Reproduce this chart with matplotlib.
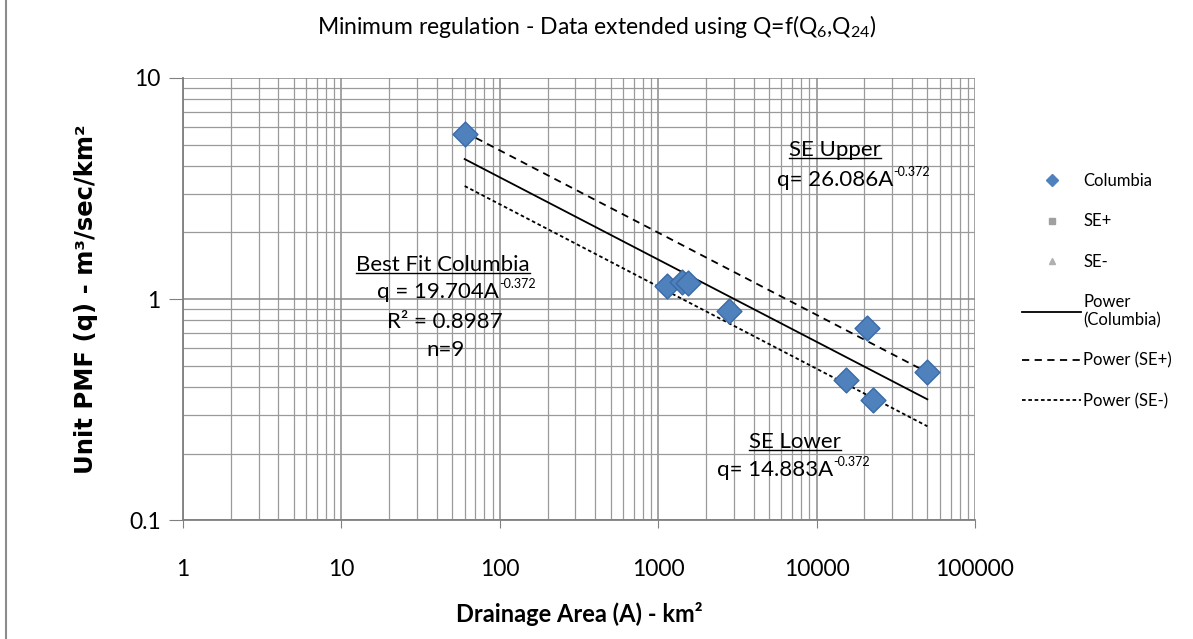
import numpy as np
import matplotlib.pyplot as plt
from matplotlib.lines import Line2D
from matplotlib.ticker import LogLocator, FixedLocator, NullFormatter

plt.rcParams['font.family'] = ['Lato', 'DejaVu Sans']
plt.rcParams['mathtext.fontset'] = 'custom'
plt.rcParams['mathtext.rm'] = 'Lato'
plt.rcParams['mathtext.it'] = 'Lato:italic'

# data
area = [60, 1136, 1413, 1543, 2800, 15340, 20800, 22700, 49800]
unit_pmf = [5.58, 1.145, 1.19, 1.18, 0.88, 0.43, 0.74, 0.35, 0.467]

# power trendlines q = c * A^b, drawn over the data range
fit_names = ['Power (Columbia)', 'Power (SE+)', 'Power (SE-)']
fit_coef = [19.704, 26.086, 14.883]
fit_exp = -0.372
fit_range = [60, 50000]

x_ticks = [1, 10, 100, 1000, 10000, 100000]
x_labels = ['1', '10', '100', '1000', '10000', '100000']
y_ticks = [0.1, 1, 10]
y_labels = ['0.1', '1', '10']

blue = '#4F81BD'

fig = plt.figure(figsize=(11.93, 6.39), dpi=100)
ax = fig.add_axes([0.1534, 0.186, 0.6639, 0.692])

ax.set_xscale('log')
ax.set_yscale('log')
ax.set_xlim(1, 100000)
ax.set_ylim(0.1, 10)

styles = ['-', (0, (4, 3)), (0, (2, 1.5))]
for c, st in zip(fit_coef, styles):
    xs = np.array(fit_range, dtype=float)
    ax.plot(xs, c * xs ** fit_exp, color='black', linestyle=st, linewidth=1.3, zorder=3)

ax.scatter(area, unit_pmf, marker='D', s=160, color=blue, edgecolors='#3a6aa8',
           linewidths=1, zorder=4)

ax.xaxis.set_major_locator(FixedLocator(x_ticks))
ax.set_xticklabels(x_labels)
ax.yaxis.set_major_locator(FixedLocator(y_ticks))
ax.set_yticklabels(y_labels)
ax.xaxis.set_minor_locator(LogLocator(base=10, subs=np.arange(2, 10)))
ax.yaxis.set_minor_locator(LogLocator(base=10, subs=np.arange(2, 10)))
ax.xaxis.set_minor_formatter(NullFormatter())
ax.yaxis.set_minor_formatter(NullFormatter())

ax.grid(True, which='major', color='#8a8a8a', linewidth=1.1)
ax.grid(True, which='minor', color='#9a9a9a', linewidth=0.9)
ax.set_axisbelow(True)

for s in ['top', 'right']:
    ax.spines[s].set_visible(False)
for s in ['left', 'bottom']:
    ax.spines[s].set_color('#808080')
    ax.spines[s].set_linewidth(1.3)

ax.tick_params(which='major', color='#808080', labelsize=16.5)
ax.tick_params(axis='y', length=10, pad=6)
ax.tick_params(axis='x', length=6, pad=22)
ax.tick_params(which='minor', length=0)

ax.set_xlabel('Drainage Area (A) - km²', fontsize=17, fontweight='bold', labelpad=16)
ax.set_ylabel('Unit PMF (q) - m³/sec/km²', fontsize=17.5, fontweight='bold',
              family='DejaVu Sans', labelpad=22)

fig.text(0.5, 0.958, 'Minimum regulation - Data extended using Q=f(Q$_6$,Q$_{24}$)',
         ha='center', va='center', fontsize=16.5)

# annotations: x centre in pixels, y in axes fraction
notes = [
    (835, 0.837, 'SE Upper', True, ''),
    (835, 0.769, 'q= 26.086A', False, '-0.372'),
    (443, 0.577, 'Best Fit Columbia', True, ''),
    (438, 0.516, 'q = 19.704A', False, '-0.372'),
    (445, 0.448, 'R² = 0.8987', False, ''),
    (445, 0.385, 'n=9', False, ''),
    (795, 0.176, 'SE Lower', True, ''),
    (775, 0.113, 'q= 14.883A', False, '-0.372'),
]
under = []
for px, fy, s, ul, sup in notes:
    xf = (px - 183) / 792.0
    t = ax.text(xf, fy, s, transform=ax.transAxes, ha='center', va='center',
                fontsize=16, zorder=5)
    if sup:
        ax.annotate(sup, xy=(1, 0.62), xycoords=t, fontsize=9, ha='left', va='bottom',
                    zorder=5)
    if ul:
        under.append(t)

fig.canvas.draw()
r = fig.canvas.get_renderer()
for t in under:
    bb = t.get_window_extent(r).transformed(fig.transFigure.inverted())
    fig.add_artist(Line2D([bb.x0, bb.x1], [bb.y0 + 0.003, bb.y0 + 0.003],
                          color='black', linewidth=1, transform=fig.transFigure))

# legend
handles = [
    Line2D([], [], marker='D', color=blue, linestyle='none', markersize=6),
    Line2D([], [], marker='s', color='#a0a0a0', linestyle='none', markersize=5),
    Line2D([], [], marker='^', color='#b0b0b0', linestyle='none', markersize=4),
]
for st in styles:
    handles.append(Line2D([], [], color='black', linestyle=st, linewidth=1.3))
labels = ['Columbia', 'SE+', 'SE-', 'Power\n(Columbia)', 'Power (SE+)', 'Power (SE-)']
fig.legend(handles, labels, loc='upper left', bbox_to_anchor=(0.857, 0.729),
           frameon=False, fontsize=12, handlelength=3.5, labelspacing=1.45,
           handletextpad=0.15, borderpad=0, borderaxespad=0)

# outer chart frame edge
fig.add_artist(Line2D([0.005, 0.005], [0, 1], color='#8c8c8c', linewidth=1.5,
                      transform=fig.transFigure))

fig.savefig('out.png', dpi=100)
